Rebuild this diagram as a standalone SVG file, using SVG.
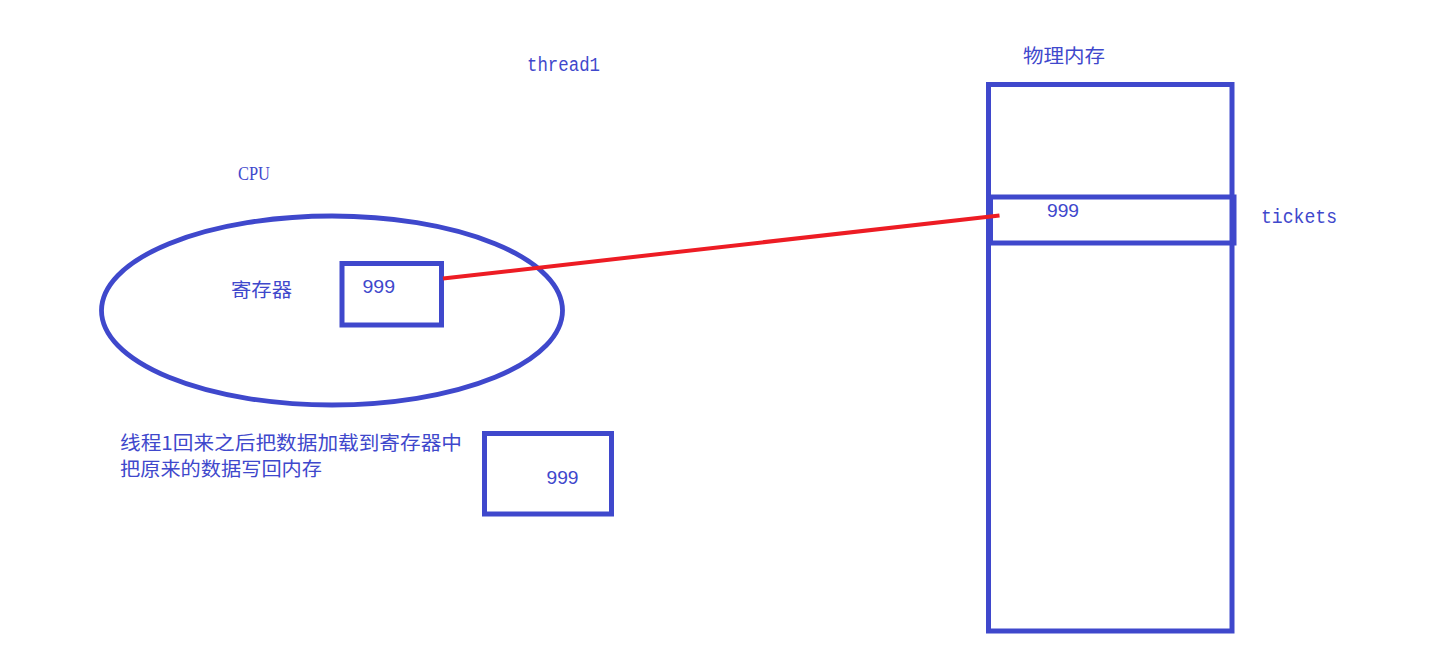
<svg xmlns="http://www.w3.org/2000/svg" width="1452" height="653" viewBox="0 0 1452 653">
<style>
.box{fill:none;stroke:#3f48cc;stroke-width:5}
.cjk{font-family:"Noto Sans CJK SC",sans-serif;font-size:19px;fill:#3f48cc}
.mono{font-family:"Liberation Mono",monospace;font-size:19.5px;fill:#3f48cc}
.serif{font-family:"Liberation Serif",serif;font-size:19px;fill:#3f48cc}
.num{font-family:"Liberation Sans",sans-serif;font-size:19px;fill:#3f48cc}
</style>
<rect width="1452" height="653" fill="#fff"/>
<g id="title"><text class="mono" x="527" y="71" textLength="73" lengthAdjust="spacingAndGlyphs">thread1</text></g>
<g id="cpu">
<text class="serif" x="238" y="179.5" textLength="32" lengthAdjust="spacingAndGlyphs">CPU</text>
<ellipse cx="332" cy="310.5" rx="230.5" ry="94.5" fill="none" stroke="#3f48cc" stroke-width="4.8"/>
<text class="cjk" x="231" y="297" textLength="61" lengthAdjust="spacingAndGlyphs">寄存器</text>
</g>
<g id="register">
<rect class="box" x="342" y="263.5" width="99.5" height="61.5"/>
<text class="num" x="362.5" y="293" textLength="32.5" lengthAdjust="spacingAndGlyphs">999</text>
</g>
<g id="note">
<text class="cjk" x="120" y="450" textLength="342" lengthAdjust="spacingAndGlyphs">线程1回来之后把数据加载到寄存器中</text>
<text class="cjk" x="120" y="476" textLength="202" lengthAdjust="spacingAndGlyphs">把原来的数据写回内存</text>
</g>
<g id="saved">
<rect class="box" x="484.5" y="433.5" width="127" height="80.5"/>
<text class="num" x="546.5" y="484" textLength="32" lengthAdjust="spacingAndGlyphs">999</text>
</g>
<g id="memory">
<text class="cjk" x="1023" y="63" textLength="82" lengthAdjust="spacingAndGlyphs">物理内存</text>
<rect class="box" x="988.5" y="84.5" width="243.5" height="546.5"/>
</g>
<g id="tickets">
<rect class="box" x="990.5" y="197" width="243.5" height="46"/>
<text class="num" x="1047" y="217" textLength="32" lengthAdjust="spacingAndGlyphs">999</text>
<text class="mono" x="1261" y="223" textLength="76" lengthAdjust="spacingAndGlyphs">tickets</text>
</g>
<g id="connectors">
<line x1="443" y1="278.5" x2="999.5" y2="215.5" stroke="#ed1c24" stroke-width="4"/>
</g>
</svg>
